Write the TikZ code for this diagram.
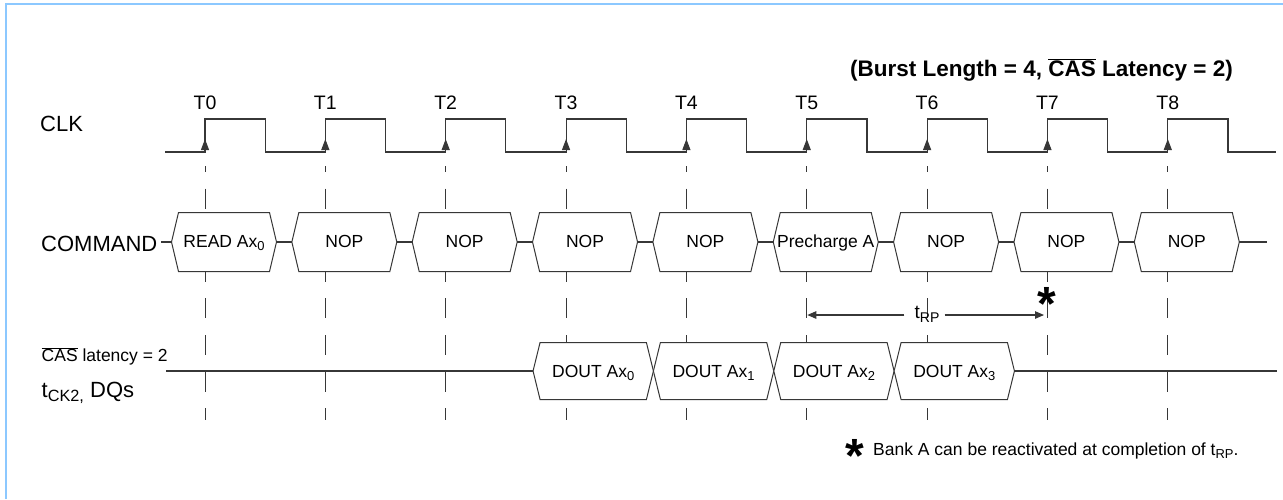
\documentclass[tikz,border=0pt]{standalone}
\usepackage{fontspec}
\setmainfont{Liberation Sans}
\usepackage{tikz}
\usetikzlibrary{arrows.meta}
\definecolor{framecol}{RGB}{140,200,255}
\definecolor{wavecol}{RGB}{55,55,55}
\newcommand{\fs}[1]{\fontsize{#1}{#1}\selectfont}
\newcommand{\ovl}[1]{$\overline{\hbox{#1}}$}
\newcommand{\lo}[1]{\raisebox{-0.22em}{\scalebox{0.74}{#1}}}
\tikzset{every node/.style={inner sep=0pt},
  wave/.style={line width=1.1pt,wavecol},
  clkmark/.style={line width=1pt,wavecol,dash pattern=on 20pt off 16.6pt,dash phase=14pt},
  sigbox/.style={line width=1pt,wavecol,fill=white},
  edge tip/.style={-{Triangle[length=11pt,width=8pt]}},
  time tip/.style={-{Triangle[length=9pt,width=7.5pt]}}}

\begin{document}
\begin{tikzpicture}[x=1pt,y=-1pt]
    \useasboundingbox (0,0) rectangle (1283,499);
    \draw[framecol,line width=2pt] (6,499) -- (6,4) -- (1283,4);
    % clock edges
    \foreach \i in {0,...,8} {
      \pgfmathsetmacro\tx{205+120.35*\i}
      \coordinate (k\i) at (\tx,166);
      \draw[clkmark] (k\i) -- (\tx,420);
      \node[font=\fs{19.5},anchor=base] (t\i) at (\tx,109) {T\i};
    }
    \draw[wave] (165,152) foreach \i in {0,...,8} { -- ({205+120.35*\i},152) -- ++(0,-33) -- ++(60.2,0) -- ++(0,33) } -- (1276,152);
    \foreach \i in {0,...,8} \draw[wave,edge tip] ({205+120.35*\i},152) -- ++(0,-13);
    % row labels
    \node[font=\fs{22},anchor=base west] (clk) at (40,131.7) {CLK};
    \node[font=\fs{22},anchor=base west] (cmd) at (41,251) {COMMAND};
    \node[font=\fs{17.5},anchor=base west] (cas) at (41.5,361.7) {\ovl{CAS} latency = 2};
    \node[font=\fs{22},anchor=base west] (dqs) at (41.5,397) {t\lo{CK2,} DQs};
    \node[font=\fs{22.5}\bfseries,anchor=base] (title) at (1041.5,76.7) {(Burst Length = 4, \ovl{CAS} Latency = 2)};
    % command bus
    \foreach[count=\j from 0] \txt in {READ Ax\lo{0},NOP,NOP,NOP,NOP,Precharge A,NOP,NOP,NOP} {
      \pgfmathsetmacro\tx{205+120.35*\j}
      \draw[sigbox] (\tx-33.5,242) -- ++(7,-29.5) -- ++(91,0) -- ++(7,29.5) -- ++(-7,29.5) -- ++(-91,0) -- cycle;
      \coordinate (cl\j) at (\tx-33.5,242);
      \coordinate (cr\j) at (\tx+71.5,242);
      \node[font=\fs{17.5},anchor=base] (c\j) at (\tx+19,247) {\txt};
    }
    \coordinate (cin) at (161,242);
    \coordinate (cout) at (1267,242);
    \draw[wave] (cin) -- (cl0);
    \foreach \i in {0,...,7} {
      \pgfmathtruncatemacro\j{\i+1}
      \draw[wave] (cr\i) -- (cl\j);
    }
    \draw[wave] (cr8) -- (cout);
    % data bus
    \foreach \k in {0,...,3} {
      \pgfmathsetmacro\xa{205+120.35*(3+\k)-33}
      \draw[sigbox] (\xa,371) -- ++(7,-28.5) -- ++(106.35,0) -- ++(7,28.5) -- ++(-7,28.5) -- ++(-106.35,0) -- cycle;
      \coordinate (dl\k) at (\xa,371);
      \coordinate (dr\k) at (\xa+120.35,371);
      \node[font=\fs{17.5},anchor=base] (d\k) at (\xa+60.2,377) {DOUT Ax\lo{\k}};
    }
    \coordinate (dqa) at (166,371);
    \coordinate (dqb) at (1277,371);
    \draw[wave] (dqa) -- (dl0);
    \draw[wave] (dr3) -- (dqb);
    % tRP
    \coordinate (rpa) at (807.3,315);
    \coordinate (rpb) at (1044,315);
    \node[font=\fs{19},anchor=base] (trp) at (927,318) {t\lo{RP}};
    \draw[wave,time tip] ([xshift=-10pt]trp.west |- rpa) -- (rpa);
    \draw[wave,time tip] ([xshift=5pt]trp.east |- rpb) -- (rpb);
    \node[font=\fs{48}\bfseries,anchor=base] (star) at (1047,320) {*};
    % footnote
    \node[font=\fs{48}\bfseries,anchor=base] (nstar) at (855,472) {*};
    \node[font=\fs{17.5},anchor=base west] (note) at (873,455) {Bank A can be reactivated at completion of t\lo{RP}.};
\end{tikzpicture}
\end{document}
